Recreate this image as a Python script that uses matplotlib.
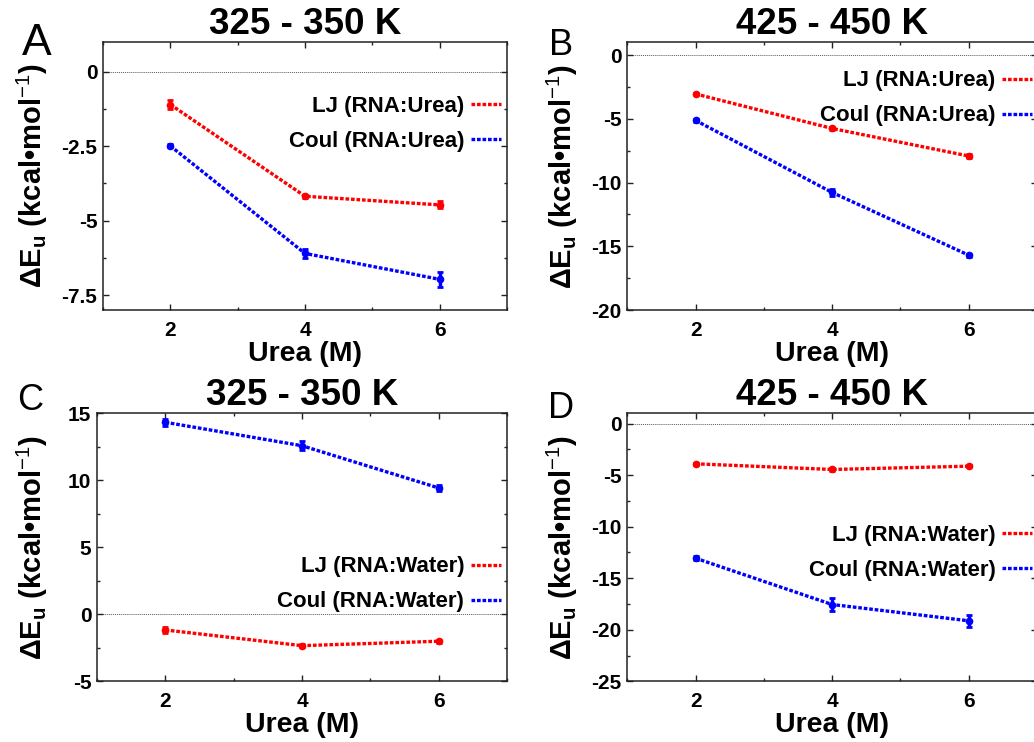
import matplotlib
matplotlib.use("Agg")
import matplotlib.pyplot as plt
from matplotlib.lines import Line2D
from matplotlib.ticker import MultipleLocator, FuncFormatter

plt.rcParams['font.family'] = ['Liberation Sans', 'DejaVu Sans']
plt.rcParams['mathtext.fontset'] = 'custom'
plt.rcParams['mathtext.rm'] = 'Liberation Sans'
plt.rcParams['mathtext.bf'] = 'Liberation Sans:bold'
plt.rcParams['axes.unicode_minus'] = False

# Daten
urea = [2, 4, 6]

a_lj = [-1.10, -4.18, -4.47]
a_lj_err = [0.15, 0.05, 0.12]
a_coul = [-2.49, -6.10, -6.97]
a_coul_err = [0.05, 0.15, 0.25]

b_lj = [-3.05, -5.76, -7.92]
b_lj_err = [0.08, 0.12, 0.15]
b_coul = [-5.13, -10.78, -15.70]
b_coul_err = [0.1, 0.25, 0.12]

c_lj = [-1.17, -2.34, -2.01]
c_lj_err = [0.25, 0.1, 0.1]
c_coul = [14.33, 12.58, 9.43]
c_coul_err = [0.25, 0.35, 0.25]

d_lj = [-3.90, -4.45, -4.13]
d_lj_err = [0.1, 0.12, 0.1]
d_coul = [-13.06, -17.55, -19.13]
d_coul_err = [0.2, 0.6, 0.6]

titles = ["325 - 350 K", "425 - 450 K", "325 - 350 K", "425 - 450 K"]
letters = ["A", "B", "C", "D"]
labels_urea = ["LJ (RNA:Urea)", "Coul (RNA:Urea)"]
labels_water = ["LJ (RNA:Water)", "Coul (RNA:Water)"]

W, H = 1034, 742
fig = plt.figure(figsize=(W / 100, H / 100), dpi=100)


def add_axes_px(left, right, top, bottom):
    return fig.add_axes([left / W, 1 - bottom / H, (right - left) / W, (bottom - top) / H])


def fmt(v, pos):
    return "%g" % v


def panel(ax, lj, lj_err, coul, coul_err, ylim, major, minor, labels, leg_xy, lab_x, title, title_pad):
    dot = (0, (1.1, 0.55))
    for y, e, c in [(lj, lj_err, "#ff0000"), (coul, coul_err, "#0000ff")]:
        ax.plot(urea, y, color=c, ls=dot, lw=2.4, marker="o", ms=4.5, zorder=3)
        ax.errorbar(urea, y, yerr=e, fmt="none", ecolor=c, elinewidth=2.5,
                    capsize=2.5, capthick=2, zorder=3)
    # Nulllinie
    ax.axhline(0, color="0.35", lw=0.7, ls=(0, (1, 1)), zorder=1)
    ax.set_xlim(1, 7)
    ax.set_ylim(*ylim)
    ax.set_xticks(urea)
    ax.xaxis.set_minor_locator(MultipleLocator(1))
    ax.yaxis.set_major_locator(MultipleLocator(major))
    ax.yaxis.set_minor_locator(MultipleLocator(minor))
    ax.yaxis.set_major_formatter(FuncFormatter(fmt))
    ax.tick_params(which="both", direction="in", top=True, right=True, color="#222222")
    ax.tick_params(which="major", length=4, width=1)
    ax.tick_params(which="minor", length=2.5, width=1)
    ax.tick_params(axis="x", pad=8, labelsize=15)
    ax.tick_params(axis="y", pad=4, labelsize=15)
    for t in ax.get_xticklabels() + ax.get_yticklabels():
        t.set_fontweight("bold")
    for s in ax.spines.values():
        s.set_linewidth(1.1)
        s.set_color("#222222")
    ax.set_title(title, fontsize=26.5, fontweight="bold", pad=title_pad)
    ax.set_xlabel("Urea (M)", fontsize=20.5, fontweight="bold", va="top")
    ax.xaxis.set_label_coords(0.5, -0.116)
    ax.set_ylabel(r"ΔE$_\mathbf{u}$ (kcal•mol$^{-1}$)", fontsize=21, fontweight="bold")
    ax.yaxis.set_label_coords(lab_x, 0.5)
    # Legende nur mit Linie, ohne Marker
    handles = [Line2D([], [], color="#ff0000", ls=dot, lw=2.4),
               Line2D([], [], color="#0000ff", ls=dot, lw=2.4)]
    ax.legend(handles, labels, loc="upper right", bbox_to_anchor=leg_xy,
              frameon=False, markerfirst=False, handlelength=1.35,
              handletextpad=0.3, borderaxespad=0, borderpad=0,
              labelspacing=0.63, prop={"size": 16, "weight": "bold"})


axA = add_axes_px(103, 507, 42, 310)
axB = add_axes_px(627.3, 1037, 42.3, 310)
axC = add_axes_px(97, 507, 413.3, 681.3)
axD = add_axes_px(627.3, 1037, 413.3, 681.3)

panel(axA, a_lj, a_lj_err, a_coul, a_coul_err, (-8, 1), 2.5, 1.25, labels_urea,
      (0.985, 0.80), -0.131, titles[0], 1.5)
panel(axB, b_lj, b_lj_err, b_coul, b_coul_err, (-20, 1), 5, 2.5, labels_urea,
      (0.988, 0.895), -0.115, titles[1], 1.5)
panel(axC, c_lj, c_lj_err, c_coul, c_coul_err, (-5, 15), 5, 2.5, labels_water,
      (0.985, 0.466), -0.115, titles[2], 2.4)
panel(axD, d_lj, d_lj_err, d_coul, d_coul_err, (-25, 1), 5, 2.5, labels_water,
      (0.988, 0.585), -0.115, titles[3], 2.4)

# Panel-Buchstaben
for l, x, y, s in zip(letters, [37, 561, 30, 561], [55, 55, 410, 418], [32, 26, 26, 26]):
    fig.text(x / W, 1 - y / H, l, ha="center", va="baseline", fontsize=s)

fig.savefig("out.png", dpi=100)
